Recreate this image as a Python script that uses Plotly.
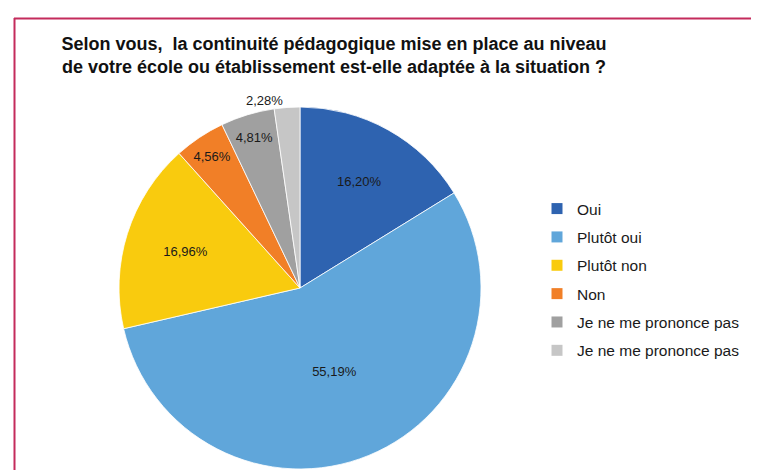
import plotly.graph_objects as go

categories = ["Oui", "Plutôt oui", "Plutôt non", "Non", "Je ne me prononce pas", "Je ne me prononce pas "]
legend_names = ["Oui", "Plutôt oui", "Plutôt non", "Non", "Je ne me prononce pas", "Je ne me prononce pas"]
values = [16.20, 55.19, 16.96, 4.56, 4.81, 2.28]
value_labels = ["16,20%", "55,19%", "16,96%", "4,56%", "4,81%", "2,28%"]
colors = ["#2E63B0", "#60A6DA", "#F9CB0E", "#F17F27", "#A0A0A0", "#C6C6C6"]
text_positions = ["inside", "inside", "inside", "inside", "inside", "outside"]

W, H = 759, 470

fig = go.Figure()
fig.add_trace(go.Pie(
    labels=categories,
    values=values,
    text=value_labels,
    textinfo="text",
    textposition=text_positions,
    insidetextorientation="horizontal",
    textfont=dict(family="Liberation Sans, Arial", size=13, color="#1a1a1a"),
    marker=dict(colors=colors, line=dict(color="white", width=0.8)),
    sort=False,
    direction="clockwise",
    rotation=0,
    showlegend=False,
    hoverinfo="label+text",
    domain=dict(x=[111 / W, 473 / W], y=[9 / H, 371 / H]),
))

# legend entries (one group each so spacing can be set)
for i, (name, c) in enumerate(zip(legend_names, colors)):
    fig.add_trace(go.Scatter(
        x=[None], y=[None], mode="markers", name=name,
        marker=dict(symbol="square", size=11, color=c),
        legendgroup=f"g{i}", showlegend=True, hoverinfo="skip",
    ))

fig.update_layout(
    width=W, height=H,
    margin=dict(l=0, r=0, t=0, b=0),
    paper_bgcolor="white", plot_bgcolor="white",
    xaxis=dict(visible=False), yaxis=dict(visible=False),
    title=dict(
        text="<b>Selon vous, \u00a0la continuité pédagogique mise en place au niveau<br>de votre école ou établissement est-elle adaptée à la situation ?</b>",
        font=dict(family="Liberation Sans, Arial", size=18, color="#111111"),
        x=326 / W, xanchor="center", y=1 - 42 / H, yanchor="top",
    ),
    legend=dict(
        x=529 / W, xanchor="left", y=1 - 184 / H, yanchor="top",
        font=dict(family="Liberation Sans, Arial", size=15.5, color="#1a1a1a"),
        traceorder="grouped", tracegroupgap=5.2,
        itemwidth=30, bgcolor="rgba(0,0,0,0)",
    ),
    font=dict(family="Liberation Sans, Arial"),
    shapes=[
        dict(type="line", xref="paper", yref="paper", x0=6 / W, x1=1.0, y0=1 - 10.5 / H, y1=1 - 10.5 / H,
             line=dict(color="#C42B5C", width=2)),
        dict(type="line", xref="paper", yref="paper", x0=6.5 / W, x1=6.5 / W, y0=0, y1=1 - 10 / H,
             line=dict(color="#C42B5C", width=2)),
    ],
)

fig.write_html("out.html")
